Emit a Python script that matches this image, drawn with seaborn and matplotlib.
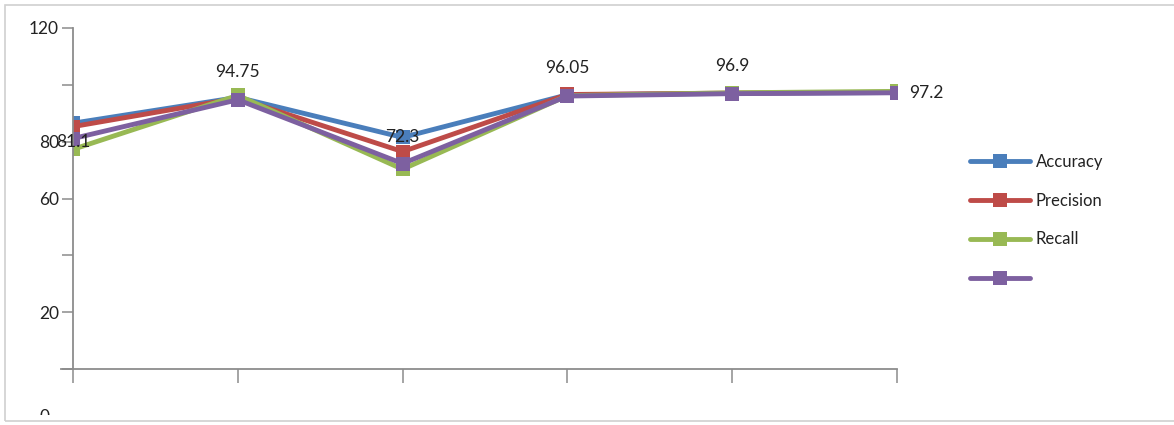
import matplotlib
matplotlib.use("Agg")
import matplotlib.pyplot as plt
import matplotlib.patches as mpatches
import seaborn as sns
import pandas as pd

# Scores for each model configuration
configs = ["1", "2", "3", "4", "5", "6"]
accuracy = [86.5, 95.6, 81.5, 96.5, 97.0, 97.3]
precision = [85.3, 95.3, 76.5, 96.6, 97.1, 97.4]
recall = [77.3, 96.3, 70.3, 96.2, 97.2, 97.7]
fourth = [81.1, 94.75, 72.3, 96.05, 96.9, 97.2]
series_names = ["Accuracy", "Precision", "Recall", " "]
y_ticks = [0, 20, 40, 60, 80, 100, 120]
y_tick_labels = ["", "20", "", "60", "80", "", "120"]

colors = ["#4A7EBB", "#BE4B48", "#98B954", "#7D60A0"]

rows = []
for name, vals in zip(series_names, [accuracy, precision, recall, fourth]):
    for i, v in enumerate(vals):
        rows.append({"pos": i, "value": v, "series": name})
df = pd.DataFrame(rows)

sns.set_style("white")
plt.rcParams["font.family"] = ["Lato", "DejaVu Sans"]

fig = plt.figure(figsize=(11.74, 4.25), dpi=100)
ax = fig.add_axes([73 / 1174, 1 - 369 / 425, (897 - 73) / 1174, (369 - 28) / 425])

sns.lineplot(data=df, x="pos", y="value", hue="series", hue_order=series_names,
             palette=colors, marker="s", markersize=9.5, markeredgewidth=0,
             linewidth=3.5, ax=ax, legend=True)

ax.set_xlim(0, len(configs) - 1)
ax.set_ylim(0, 120)
ax.set_xticks(range(len(configs)))
ax.set_xticklabels([""] * len(configs))
ax.set_yticks(y_ticks)
ax.set_yticklabels(y_tick_labels, fontsize=12.5, color="#222222")
ax.set_xlabel("")
ax.set_ylabel("")
for side in ["top", "right"]:
    ax.spines[side].set_visible(False)
for side in ["left", "bottom"]:
    ax.spines[side].set_color("#8C8C8C")
    ax.spines[side].set_linewidth(1.3)
ax.tick_params(axis="y", left=True, direction="out", length=8, width=1.1,
               color="#8C8C8C", pad=2)
ax.tick_params(axis="x", bottom=True, direction="out", length=10, width=1.1,
               color="#8C8C8C")
ax.spines["bottom"].set_bounds(-0.07, len(configs) - 1)
ax.set_clip_on(False)

# Value labels for the last series
label_offsets = [(0, -3, "center", "center"), (0, 20, "center", "bottom"),
                 (0, 19, "center", "bottom"), (0, 20, "center", "bottom"),
                 (0, 20, "center", "bottom"), (12, 0, "left", "center")]
for i, v in enumerate(fourth):
    dx, dy, ha, va = label_offsets[i]
    ax.annotate(f"{v:g}", (i, v), xytext=(dx, dy), textcoords="offset pixels",
                ha=ha, va=va, fontsize=12.5, color="#222222", annotation_clip=False)

# Zero label sits below the axis and is cut by the chart frame
zero = fig.text(45 / 1174, 1 - 409 / 425, "0", ha="center", va="top",
                fontsize=12.5, color="#222222")
clip = mpatches.Rectangle((0, 1 - 415 / 425), 1, 1, transform=fig.transFigure,
                          visible=False)
fig.add_artist(clip)
zero.set_clip_path(clip)

# Legend
handles, labels = ax.get_legend_handles_labels()
ax.get_legend().remove()
leg = fig.legend(handles, labels, loc="center left",
                 bbox_to_anchor=(955 / 1174, 1 - 220 / 425), frameon=False,
                 fontsize=12, handlelength=3.6, handletextpad=0.35,
                 labelspacing=1.38)
for t in leg.get_texts():
    t.set_color("#222222")

# Chart frame
frame = mpatches.Rectangle((5 / 1174, 1 - 421 / 425), 1.2, 416 / 425,
                           transform=fig.transFigure, fill=False,
                           edgecolor="#D0D0D0", linewidth=1.2)
fig.add_artist(frame)

fig.savefig("out.png", dpi=100)
